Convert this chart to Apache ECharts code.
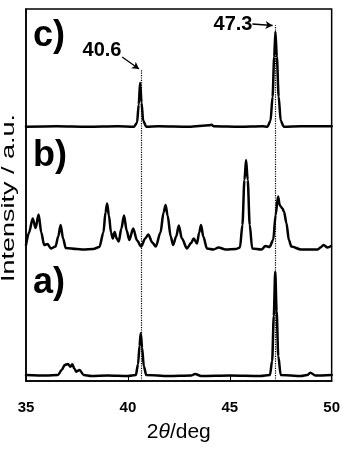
<!DOCTYPE html>
<html>
<head>
<meta charset="utf-8">
<script src="https://cdn.jsdelivr.net/npm/echarts@6/dist/echarts.min.js"></script>
<style>
html,body{margin:0;padding:0;background:#fff;}
#chart{width:343px;height:453px;}
</style>
</head>
<body>
<div id="chart"></div>
<script>
// ---- data (2θ in degrees, intensity in arbitrary units above each trace's baseline)
const xTicks = [35, 40, 45, 50];

const thetaA = [35.0, 36.0, 36.57, 36.75, 36.9, 37.06, 37.18, 37.27, 37.38, 37.47, 37.63, 37.83, 38.2, 39.0, 40.0, 40.39, 40.5, 40.57, 40.63, 40.7, 40.78, 40.9, 42.0, 43.1, 43.3, 43.6, 45.0, 46.5, 46.97, 47.08, 47.16, 47.23, 47.3, 47.38, 47.5, 48.5, 48.8, 48.96, 49.2, 50.0];
const intA   = [1, 0.5, 1, 6, 11, 12, 9.3, 11.7, 7, 4.3, 6, 1, 0, 0.5, 0, 1, 12, 30, 42.7, 28, 10, 1, 0, 0.5, 2, 0, 0.5, 0, 1, 15, 60, 104.3, 65, 20, 1, 0, 1, 3.3, 0.5, 1];

const thetaB = [35.0, 35.15, 35.33, 35.47, 35.62, 35.75, 35.89, 36.06, 36.22, 36.45, 36.58, 36.7, 36.82, 36.95, 37.5, 37.8, 38.3, 38.6, 38.8, 38.9, 38.98, 39.07, 39.17, 39.26, 39.35, 39.45, 39.55, 39.68, 39.81, 39.94, 40.07, 40.26, 40.45, 40.65, 40.85, 41.0, 41.2, 41.37, 41.6, 41.75, 41.85, 41.95, 42.1, 42.22, 42.37, 42.5, 42.65, 42.9, 43.1, 43.23, 43.39, 43.5, 43.59, 43.7, 43.88, 44.2, 44.45, 44.8, 45.3, 45.5, 45.62, 45.72, 45.8, 45.88, 45.98, 46.1, 46.56, 46.75, 46.95, 47.13, 47.25, 47.37, 47.45, 47.5, 47.58, 47.66, 47.78, 47.9, 48.02, 48.5, 49.32, 49.45, 49.6, 49.8, 49.97];
const intB   = [4.5, 17, 31, 21.5, 35, 17, 4.5, 5.5, 1, 3, 13, 24.5, 11, 1.5, 0.5, 0, 0.5, 2.5, 17, 37, 46, 34, 17, 11, 17.5, 11, 8, 21, 34, 19, 9.5, 21, 9, 3, 11, 15, 7, 3, 17, 37, 44.5, 34, 13, 4.5, 13, 24, 11, 1, 6.5, 11, 6, 17, 24.5, 13, 1, 0, 2, 0, 0.5, 2, 24.5, 69.5, 89.5, 69.5, 24.5, 1, 0, 3.5, 2.5, 9.5, 34.5, 53, 44.5, 43, 41, 38, 26.5, 9.5, 3, 0, 0, 2, 4.5, 2, 3.5];

const thetaC = [35.0, 36.5, 38.0, 39.5, 40.3, 40.45, 40.53, 40.6, 40.67, 40.75, 40.9, 41.5, 43.0, 44.0, 44.1, 44.2, 45.5, 46.6, 46.85, 47.0, 47.1, 47.18, 47.24, 47.31, 47.4, 47.5, 47.65, 48.5, 50.0];
const intC   = [0, 0.5, 0, 0.5, 0, 4, 22, 44, 24, 6, 0, 0.5, 0, 1.5, 2, 0.5, 0, 0.5, 0, 6, 30, 70, 95, 70, 30, 6, 0, 0.5, 0.5];

// reference lines and annotations
const refLines = [40.65, 47.25];
const refLabels = ['40.6', '47.3'];
const panelLabels = ['a)', 'b)', 'c)'];

// ---- layout (presentation only)
const baseA = 5, baseB = 131.5, baseC = 254.3;
const refTops = [311, 356];

function build(t, v, base) { return t.map((x, i) => [x, v[i] + base]); }

const chart = echarts.init(document.getElementById('chart'), null, {renderer: 'canvas'});
const FONT = '"Liberation Sans", Arial, Helvetica, sans-serif';
const lineStyle = {color: '#000', width: 2.5, join: 'round', cap: 'round'};

const option = {
  animation: false,
  backgroundColor: '#fff',
  grid: {left: 26, right: 9, top: 9, bottom: 72, show: true, borderColor: '#000', borderWidth: 1.5, backgroundColor: 'transparent'},
  xAxis: {
    type: 'value', min: 35, max: 50, interval: 5,
    axisLine: {show: true, lineStyle: {color: '#000', width: 1.5}},
    axisTick: {show: true, inside: true, length: 5, lineStyle: {color: '#000', width: 1}},
    splitLine: {show: false},
    axisLabel: {color: '#000', fontFamily: FONT, fontWeight: 'bold', fontSize: 15, margin: 19,
      formatter: v => xTicks.includes(v) ? String(v) : ''},
    name: '{n|2}{t|θ}{n|/deg}', nameLocation: 'middle', nameGap: 41,
    nameTextStyle: {rich: {
      n: {fontFamily: FONT, fontSize: 21, color: '#000'},
      t: {fontFamily: FONT, fontSize: 21, color: '#000', fontStyle: 'italic'}
    }}
  },
  yAxis: {
    type: 'value', min: 0, max: 372,
    axisLine: {show: true, lineStyle: {color: '#000', width: 1.5}},
    axisTick: {show: false}, axisLabel: {show: false}, splitLine: {show: false}
  },
  series: [
    {type: 'line', data: build(thetaA, intA, baseA), showSymbol: false, smooth: 0.3, smoothMonotone: 'x', lineStyle, silent: true, z: 3},
    {type: 'line', data: build(thetaB, intB, baseB), showSymbol: false, smooth: 0.3, smoothMonotone: 'x', lineStyle, silent: true, z: 3},
    {type: 'line', data: build(thetaC, intC, baseC), showSymbol: false, smooth: 0.3, smoothMonotone: 'x', lineStyle, silent: true, z: 3,
      markLine: {
        silent: true, symbol: ['none', 'none'], label: {show: false},
        lineStyle: {color: '#000', type: 'dotted', width: 1.2},
        data: refLines.map((x, i) => [{coord: [x, 0]}, {coord: [x, refTops[i]]}])
      }
    },
    {type: 'line', data: [], silent: true,
      markLine: {
        silent: true, symbol: ['none', 'arrow'], symbolSize: [6, 7], label: {show: false},
        lineStyle: {color: '#000', type: 'solid', width: 1.3},
        data: [
          [{coord: [39.72, 324]}, {coord: [40.55, 312]}],
          [{coord: [46.11, 357]}, {coord: [47.1, 355.5]}]
        ]
      }
    }
  ]
};
chart.setOption(option);

// annotation texts placed at data coordinates
function px(x, y) { return chart.convertToPixel({xAxisIndex: 0, yAxisIndex: 0}, [x, y]); }
const labA = px(38.73, 331), labB = px(45.16, 356.5);
const graphics = [
  {type: 'text', left: 33, top: 265, style: {text: panelLabels[0], font: 'bold 36px ' + FONT, fill: '#000'}},
  {type: 'text', left: 33, top: 138, style: {text: panelLabels[1], font: 'bold 36px ' + FONT, fill: '#000'}},
  {type: 'text', left: 33, top: 18, style: {text: panelLabels[2], font: 'bold 36px ' + FONT, fill: '#000'}},
  {type: 'text', x: labA[0], y: labA[1], style: {text: refLabels[0], font: 'bold 20px ' + FONT, fill: '#000', align: 'center', verticalAlign: 'middle'}},
  {type: 'text', x: labB[0], y: labB[1], style: {text: refLabels[1], font: 'bold 20px ' + FONT, fill: '#000', align: 'center', verticalAlign: 'middle'}},
  {type: 'text', x: 9, y: 198, rotation: Math.PI / 2, scaleX: 1.42,
    style: {text: 'Intensity / a.u.', font: '19px ' + FONT, fill: '#000', align: 'center', verticalAlign: 'middle'}}
];
chart.setOption({graphic: graphics});
</script>
</body>
</html>
